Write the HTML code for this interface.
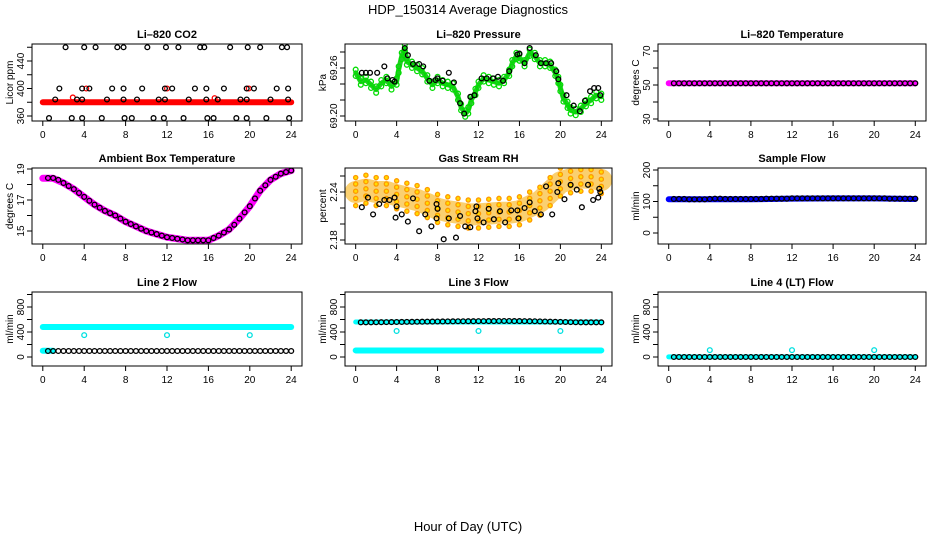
<!DOCTYPE html>
<html><head><meta charset="utf-8"><style>
html,body{margin:0;padding:0;background:#fff;}
svg{display:block;font-family:"Liberation Sans",Arial,sans-serif;}
</style></head><body>
<svg id="chart" width="936" height="540" viewBox="0 0 936 540" xmlns="http://www.w3.org/2000/svg">
<text x="468" y="14" text-anchor="middle" font-size="13">HDP_150314  Average Diagnostics</text>
<text x="468" y="531" text-anchor="middle" font-size="13">Hour of Day (UTC)</text>
</svg>
<script>
// ---- data ----
const xTicks=[0,4,8,12,16,20,24];
const halfHours=[0.5,1,1.5,2,2.5,3,3.5,4,4.5,5,5.5,6,6.5,7,7.5,8,8.5,9,9.5,10,10.5,11,11.5,12,12.5,13,13.5,14,14.5,15,15.5,16,16.5,17,17.5,18,18.5,19,19.5,20,20.5,21,21.5,22,22.5,23,23.5,24];

// CO2
const co2BandT=[0,24], co2BandV=[380,380];
const co2BlackT=[2.2,4.0,5.1,7.2,7.8,10.1,11.9,13.1,15.2,15.6,18.1,19.8,21.0,23.1,23.6, 1.6,3.8,4.5,6.7,7.8,9.6,11.8,12.5,14.7,15.8,17.5,19.7,20.4,22.6,23.7, 1.2,3.3,3.8,6.2,7.8,9.1,11.2,11.8,14.1,15.8,16.9,19.1,19.7,22.0,23.7, 0.6,2.8,3.8,5.7,7.9,8.6,10.7,11.7,13.6,15.9,16.5,18.7,19.7,21.6,23.8];
const co2BlackV=[460,460,460,460,460,460,460,460,460,460,460,460,460,460,460, 400,400,400,400,400,400,400,400,400,400,400,400,400,400,400, 384,384,384,384,384,384,384,384,384,384,384,384,384,384,384, 357,357,357,357,357,357,357,357,357,357,357,357,357,357,357];
const co2RedT=[2.9,16.6,4.2,12.0,19.9];
const co2RedV=[387,386,400,400,400];

// Pressure
const presT=[0,0.5,1,1.5,2,2.5,3,3.5,4,4.2,4.5,4.8,5,5.5,6,6.5,7,7.5,8,8.5,9,9.5,10,10.3,10.7,11,11.3,11.7,12,12.5,13,13.5,14,14.5,15,15.3,15.7,16,16.5,17,17.5,18,18.5,19,19.5,19.8,20,20.3,20.7,21,21.5,22,22.5,23,23.5,24];
const presV=[69.254,69.243,69.245,69.239,69.233,69.241,69.245,69.237,69.243,69.258,69.275,69.285,69.268,69.264,69.260,69.256,69.247,69.239,69.245,69.241,69.239,69.237,69.224,69.211,69.203,69.207,69.220,69.230,69.239,69.247,69.245,69.243,69.241,69.245,69.254,69.266,69.275,69.273,69.266,69.279,69.275,69.266,69.266,69.264,69.254,69.245,69.235,69.222,69.214,69.207,69.205,69.209,69.216,69.220,69.226,69.224];
const presBlackT=[0.6,1.0,1.4,2.1,2.8,3.1,3.6,3.8,4.8,5.1,5.6,6.2,6.6,7.2,7.8,8.0,8.5,9.1,9.6,10.2,10.6,11.2,11.6,12.3,12.8,13.4,13.9,14.4,15.0,15.8,16.0,16.5,17.0,17.6,18.1,18.6,19.1,19.6,19.8,20.6,21.3,21.9,22.4,22.9,23.3,23.7,23.9];
const presBlackV=[69.254,69.254,69.254,69.254,69.262,69.247,69.245,69.243,69.285,69.276,69.265,69.265,69.262,69.244,69.245,69.247,69.244,69.254,69.242,69.216,69.203,69.224,69.226,69.247,69.247,69.247,69.249,69.244,69.256,69.277,69.278,69.266,69.285,69.276,69.266,69.266,69.266,69.256,69.246,69.226,69.213,69.206,69.219,69.231,69.235,69.235,69.226];

// Li-820 temperature
const tempBandT=[0,24], tempBandV=[51,51];
const tempBlackV=[51,51,51,51,51,51,51,51,51,51,51,51,51,51,51,51,51,51,51,51,51,51,51,51,51,51,51,51,51,51,51,51,51,51,51,51,51,51,51,51,51,51,51,51,51,51,51,51];

// Ambient box temperature
const ambBandT=[0,1,2,3,4,5,6,7,8,9,10,11,12,13,14,15,16,17,18,19,20,21,22,23,24];
const ambBandV=[18.4,18.4,18.1,17.7,17.2,16.7,16.3,16.0,15.6,15.3,15.0,14.8,14.6,14.5,14.4,14.4,14.4,14.7,15.1,15.8,16.6,17.6,18.3,18.7,18.9];
const ambBlackV=[18.42,18.42,18.3,18.1,17.9,17.7,17.45,17.2,16.95,16.7,16.5,16.3,16.15,16.0,15.8,15.6,15.45,15.3,15.15,15.0,14.9,14.8,14.7,14.6,14.55,14.5,14.45,14.4,14.4,14.4,14.4,14.4,14.55,14.7,14.9,15.1,15.4,15.8,16.2,16.6,17.1,17.6,17.95,18.3,18.5,18.7,18.8,18.9];

// Gas stream RH
const rhBandT=[0,1,2,3,4,5,6,7,8,9,10,11,12,13,14,15,16,17,18,19,20,21,22,23,24];
const rhBandV=[2.240,2.243,2.240,2.240,2.236,2.233,2.230,2.225,2.219,2.216,2.214,2.212,2.212,2.213,2.214,2.214,2.216,2.222,2.228,2.240,2.252,2.256,2.258,2.258,2.255];
const rhBlackT=[0.6,1.2,1.7,2.3,2.8,3.3,3.8,4.0,3.9,4.5,5.1,5.6,6.2,6.8,7.4,7.9,8.0,7.9,8.6,9.1,9.8,10.2,10.7,11.2,11.7,11.8,11.9,12.5,13.0,13.5,14.1,14.6,15.2,15.8,15.9,16.5,17.0,17.5,18.1,18.6,19.2,19.7,19.8,20.4,21.0,21.6,22.1,22.7,23.2,23.7,23.8,23.9];
const rhBlackV=[2.221,2.233,2.212,2.225,2.230,2.230,2.233,2.222,2.208,2.212,2.203,2.232,2.191,2.212,2.197,2.225,2.219,2.207,2.181,2.207,2.183,2.210,2.197,2.196,2.216,2.222,2.207,2.202,2.219,2.206,2.216,2.202,2.217,2.217,2.207,2.220,2.227,2.216,2.212,2.247,2.212,2.240,2.251,2.231,2.249,2.243,2.221,2.249,2.230,2.233,2.244,2.240];

// Sample flow
const sampBandT=[0,4,8,12,16,20,24], sampBandV=[107,107,107,109,110,110,108];
const sampBlackV=[108,108,108,107,107,107,107,108,109,109,108,108,108,108,108,108,108,108,109,109,109,109,109,110,110,110,110,110,110,110,110,110,110,110,110,110,110,110,110,110,110,110,109,109,109,109,109,109];

// Line 2 flow
const l2BandT=[0,24], l2BandV=[480,480];
const l2LowBandT=[0,1], l2LowBandV=[100,100];
const l2BlackV=[96,96,96,96,96,96,96,96,96,96,96,96,96,96,96,96,96,96,96,96,96,96,96,96,96,96,96,96,96,96,96,96,96,96,96,96,96,96,96,96,96,96,96,96,96,96,96,96];
const l2OutT=[4,12,20], l2OutV=[350,350,350];

// Line 3 flow
const l3BandT=[0,24], l3BandV=[105,105];
const l3HighBandT=[0,24], l3HighBandV=[560,560];
const l3BlackV=[555,555,555,556,557,558,559,560,561,562,563,564,565,566,567,568,569,570,571,572,572,573,573,574,574,575,575,576,576,576,575,575,574,573,572,570,568,566,564,562,560,558,556,555,555,555,555,555];
const l3OutT=[4,12,20], l3OutV=[416,416,416];

// Line 4 flow
const l4BandT=[0,24], l4BandV=[2,2];
const l4BlackV=[0,0,0,0,0,0,0,0,0,0,0,0,0,0,0,0,0,0,0,0,0,0,0,0,0,0,0,0,0,0,0,0,0,0,0,0,0,0,0,0,0,0,0,0,0,0,0,0];
const l4OutT=[4,12,20], l4OutV=[110,110,110];

// ---- drawing ----
const NS='http://www.w3.org/2000/svg';
const svg=document.getElementById('chart');
function mk(tag,attrs,parent){const e=document.createElementNS(NS,tag);for(const k in attrs)e.setAttribute(k,attrs[k]);(parent||svg).appendChild(e);return e;}

function panel(cfg){
  const g=mk('g',{});
  
  
  const b=cfg.box;
  const w=b[1]-b[0];
  const xs=t=>b[0]+w*(0.04+0.92*t/24);
  const ys=v=>cfg.p1+(v-cfg.v1)*(cfg.p2-cfg.p1)/(cfg.v2-cfg.v1);
  const clip='clip-'+cfg.name;
  const cp=mk('clipPath',{id:clip},g);
  mk('rect',{x:b[0],y:b[2],width:w,height:b[3]-b[2]},cp);
  const t=mk('text',{x:(b[0]+b[1])/2,y:b[2]-6,'text-anchor':'middle','font-size':11,'font-weight':'bold'},g);
  t.textContent=cfg.title;
  
  
  const yl=mk('text',{x:0,y:0,'text-anchor':'middle','font-size':10,transform:`translate(${b[0]-19},${(b[2]+b[3])/2}) rotate(-90)`},g);
  yl.textContent=cfg.ylab;
  
  
  const pg=mk('g',{'clip-path':`url(#${clip})`},g);
  
  
  (cfg.draw||(()=>{}))(pg,xs,ys);
  const box=mk('rect',{x:b[0],y:b[2],width:w,height:b[3]-b[2],fill:'none',stroke:'#000','stroke-width':1},g);
  
  
  xTicks.forEach(v=>{
    const x=xs(v);
    mk('line',{x1:x,x2:x,y1:b[3],y2:b[3]+5,stroke:'#000'},g);
    const lt=mk('text',{x:x,y:b[3]+17,'text-anchor':'middle','font-size':10},g);
    lt.textContent=v;
    
    
  });
  mk('line',{x1:xs(0),x2:xs(24),y1:b[3],y2:b[3],stroke:'#000'},g);
  cfg.yticks.forEach(v=>{
    const y=ys(v);
    mk('line',{x1:b[0]-5,x2:b[0],y1:y,y2:y,stroke:'#000'},g);
  });
  cfg.ylabels.forEach(v=>{
    const y=ys(v);
    const lt=mk('text',{x:0,y:0,'text-anchor':'middle','font-size':10,transform:`translate(${b[0]-8},${y}) rotate(-90)`},g);
    lt.textContent=cfg.fmt?cfg.fmt(v):v;
    
    
  });
}
function band(g,xs,ys,T,V,color,width,name,op){
  const p=mk('polyline',{points:T.map((t,i)=>xs(t)+','+ys(V[i])).join(' '),fill:'none',stroke:color,'stroke-width':width,'stroke-linecap':'round','stroke-linejoin':'round','stroke-opacity':op||1},g);
  
  
}
function pts(g,xs,ys,T,V,color,name,r,fill){
  T.forEach((t,i)=>{
    const c=mk('circle',{cx:xs(t),cy:ys(V[i]),r:r||2.4,fill:fill||'none',stroke:color,'stroke-width':1.3},g);
    
    
  });
}
const C1=[32,302],C2=[345,612],C3=[658,926];
const R1=[44,121],R2=[168,244],R3=[292,366];

panel({name:'co2',title:'Li\u2013820 CO2',ylab:'Licor ppm',box:[...C1,...R1],v1:360,p1:116,v2:440,p2:61,yticks:[360,380,400,420,440,460],ylabels:[360,400,440],
  draw:(g,xs,ys)=>{band(g,xs,ys,co2BandT,co2BandV,'#ff0000',6,'co2-band');pts(g,xs,ys,co2RedT,co2RedV,'#ff0000','co2-red-point');pts(g,xs,ys,co2BlackT,co2BlackV,'#000','co2-point');}});
panel({name:'pressure',title:'Li\u2013820 Pressure',ylab:'kPa',box:[...C2,...R1],v1:69.20,p1:116,v2:69.26,p2:68,yticks:[69.20,69.22,69.24,69.26,69.28],ylabels:[69.20,69.26],fmt:v=>v.toFixed(2),
  draw:(g,xs,ys)=>{band(g,xs,ys,presT,presV,'#22cc22',5,'pressure-band');
    [-0.004,0.004].forEach(o=>pts(g,xs,ys,presT,presV.map(v=>v+o),'#00dd00','pressure-green-point',2.4));
    pts(g,xs,ys,presBlackT,presBlackV,'#000','pressure-point');}});
panel({name:'li820-temp',title:'Li\u2013820 Temperature',ylab:'degrees C',box:[...C3,...R1],v1:30,p1:119,v2:70,p2:51,yticks:[30,40,50,60,70],ylabels:[30,50,70],
  draw:(g,xs,ys)=>{band(g,xs,ys,tempBandT,tempBandV,'#ff00ff',6,'li820-temp-band');pts(g,xs,ys,halfHours,tempBlackV,'#000','li820-temp-point');}});
panel({name:'ambient',title:'Ambient Box Temperature',ylab:'degrees C',box:[...C1,...R2],v1:15,p1:231,v2:19,p2:169,yticks:[15,16,17,18,19],ylabels:[15,17,19],
  draw:(g,xs,ys)=>{band(g,xs,ys,ambBandT,ambBandV,'#ff00ff',7,'ambient-band');pts(g,xs,ys,halfHours,ambBlackV,'#000','ambient-point');}});
panel({name:'rh',title:'Gas Stream RH',ylab:'percent',box:[...C2,...R2],v1:2.18,p1:240,v2:2.24,p2:192,yticks:[2.18,2.20,2.22,2.24,2.26],ylabels:[2.18,2.24],fmt:v=>v.toFixed(2),
  draw:(g,xs,ys)=>{band(g,xs,ys,rhBandT,rhBandV,'#f8c040',22,'rh-band',0.75);
    [-0.017,-0.008,0.001,0.01,0.018].forEach(o=>pts(g,xs,ys,rhBandT,rhBandV.map(v=>v+o),'#ff9900','rh-orange-point',2.1,'#ffdd00'));
    pts(g,xs,ys,rhBlackT,rhBlackV,'#000','rh-point');}});
panel({name:'sample-flow',title:'Sample Flow',ylab:'ml/min',box:[...C3,...R2],v1:0,p1:233,v2:200,p2:170,yticks:[0,50,100,150,200],ylabels:[0,100,200],
  draw:(g,xs,ys)=>{band(g,xs,ys,sampBandT,sampBandV,'#0000ff',6,'sample-flow-band');pts(g,xs,ys,halfHours,sampBlackV,'#000','sample-flow-point');}});
panel({name:'line2',title:'Line 2 Flow',ylab:'ml/min',box:[...C1,...R3],v1:0,p1:357,v2:800,p2:307,yticks:[0,200,400,600,800,1000],ylabels:[0,400,800],
  draw:(g,xs,ys)=>{band(g,xs,ys,l2BandT,l2BandV,'#00ffff',6,'line2-band');band(g,xs,ys,l2LowBandT,l2LowBandV,'#00ffff',6,'line2-low-band');pts(g,xs,ys,halfHours,l2BlackV,'#000','line2-point');pts(g,xs,ys,l2OutT,l2OutV,'#00e0e0','line2-cyan-point');}});
panel({name:'line3',title:'Line 3 Flow',ylab:'ml/min',box:[...C2,...R3],v1:0,p1:357,v2:800,p2:307,yticks:[0,200,400,600,800,1000],ylabels:[0,400,800],
  draw:(g,xs,ys)=>{band(g,xs,ys,l3BandT,l3BandV,'#00ffff',6,'line3-band');band(g,xs,ys,l3HighBandT,l3HighBandV,'#00ffff',5,'line3-high-band');pts(g,xs,ys,halfHours,l3BlackV,'#000','line3-point');pts(g,xs,ys,l3OutT,l3OutV,'#00e0e0','line3-cyan-point');}});
panel({name:'line4',title:'Line 4 (LT) Flow',ylab:'ml/min',box:[...C3,...R3],v1:0,p1:357,v2:800,p2:307,yticks:[0,200,400,600,800,1000],ylabels:[0,400,800],
  draw:(g,xs,ys)=>{band(g,xs,ys,l4BandT,l4BandV,'#00ffff',5,'line4-band');pts(g,xs,ys,halfHours,l4BlackV,'#000','line4-point');pts(g,xs,ys,l4OutT,l4OutV,'#00e0e0','line4-cyan-point');}});
</script>
</body></html>
